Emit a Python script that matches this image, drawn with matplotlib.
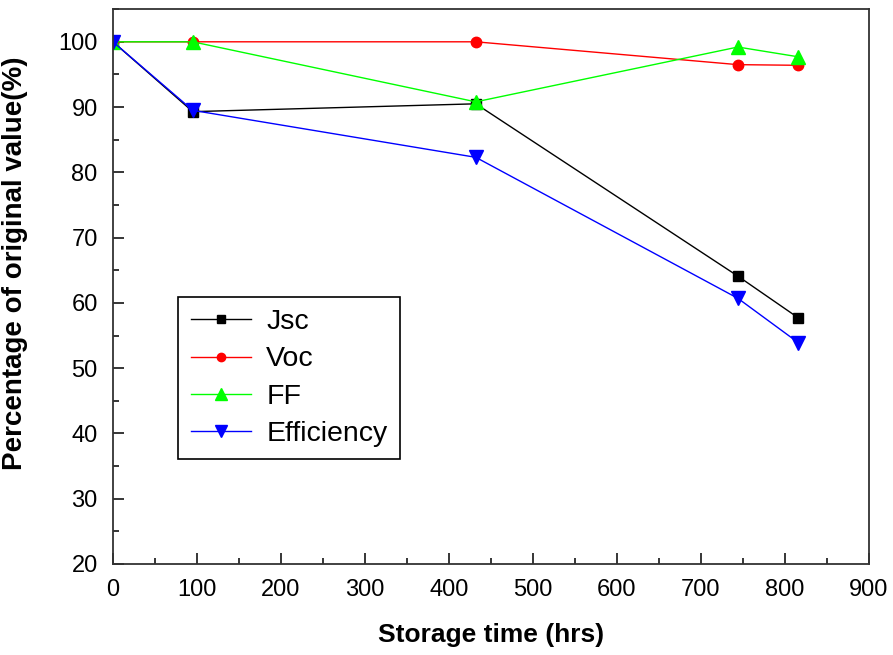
import matplotlib
matplotlib.use("Agg")
import matplotlib.pyplot as plt
from matplotlib.ticker import MultipleLocator

plt.rcParams['font.family'] = ['Liberation Sans', 'DejaVu Sans']

hours = [0, 95, 432, 744, 816]
jsc = [100, 89.3, 90.5, 64.1, 57.7]
voc = [100, 100, 100, 96.5, 96.4]
ff = [100, 100, 90.8, 99.2, 97.7]
eff = [100, 89.5, 82.3, 60.7, 53.9]

fig = plt.figure(figsize=(8.93, 6.55), dpi=100)
ax = fig.add_axes([0.1265, 0.139, 0.8465, 0.847])

ax.plot(hours, jsc, color='black', lw=1, marker='s', ms=7.5, label='Jsc')
ax.plot(hours, voc, color='red', lw=1, marker='o', ms=7.5, label='Voc')
ax.plot(hours, ff, color='#00ff00', lw=1, marker='^', ms=10, label='FF')
ax.plot(hours, eff, color='blue', lw=1, marker='v', ms=10, label='Efficiency')

ax.set_xlim(0, 900)
ax.set_ylim(20, 105)
ax.xaxis.set_major_locator(MultipleLocator(100))
ax.xaxis.set_minor_locator(MultipleLocator(50))
ax.yaxis.set_major_locator(MultipleLocator(10))
ax.yaxis.set_minor_locator(MultipleLocator(5))
ax.tick_params(which='both', direction='in', top=False, right=False, width=1.1)
ax.tick_params(which='major', length=8, labelsize=17)
ax.tick_params(which='minor', length=4)
ax.tick_params(axis='x', which='major', pad=11)
ax.tick_params(axis='y', which='major', pad=11)
for s in ax.spines.values():
    s.set_linewidth(1.3)
    s.set_color('#333333')

ax.set_xlabel('Storage time (hrs)', fontsize=19, fontweight='bold')
ax.set_ylabel('Percentage of original value(%)', fontsize=20, fontweight='bold')
ax.xaxis.set_label_coords(0.5, -0.107)
ax.yaxis.set_label_coords(-0.113, 0.542)

leg = ax.legend(loc='upper left', bbox_to_anchor=(0.086, 0.482), fontsize=20.5,
                fancybox=False, edgecolor='black', framealpha=1, handlelength=2.1,
                labelspacing=0.39, borderpad=0.45, handletextpad=0.55, markerscale=0.8,
                borderaxespad=0)
leg.get_frame().set_linewidth(1.2)

fig.savefig('out.png', dpi=100)
